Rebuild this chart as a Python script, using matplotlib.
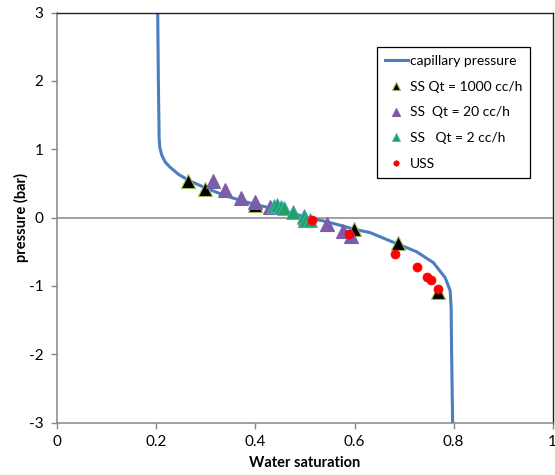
import matplotlib
matplotlib.use("Agg")
import matplotlib.pyplot as plt

plt.rcParams['font.family'] = ['Lato', 'DejaVu Sans']
plt.rcParams['axes.unicode_minus'] = False

# Capillary pressure curve (water saturation, pressure in bar)
curve_sw = [0.2027, 0.204, 0.2056, 0.207, 0.211, 0.218, 0.227, 0.245, 0.266,
            0.297, 0.335, 0.370, 0.399, 0.456, 0.510, 0.537, 0.564, 0.604,
            0.631, 0.671, 0.725, 0.759, 0.783, 0.793, 0.795, 0.796, 0.798]
curve_pc = [3.0, 2.0, 1.15, 1.02, 0.91, 0.81, 0.74, 0.63, 0.54,
            0.44, 0.33, 0.25, 0.19, 0.10, -0.01, -0.05, -0.10, -0.18,
            -0.22, -0.34, -0.50, -0.66, -0.88, -1.07, -1.32, -2.0, -3.0]

# Steady-state measurements, Qt = 1000 cc/h
ss1000_sw = [0.264, 0.298, 0.399, 0.497, 0.599, 0.688, 0.769]
ss1000_pc = [0.54, 0.42, 0.19, 0.01, -0.17, -0.37, -1.09]

# Steady-state measurements, Qt = 20 cc/h
ss20_sw = [0.315, 0.338, 0.370, 0.399, 0.429, 0.500, 0.545, 0.577, 0.593]
ss20_pc = [0.53, 0.40, 0.29, 0.22, 0.16, -0.03, -0.10, -0.20, -0.27]

# Steady-state measurements, Qt = 2 cc/h
ss2_sw = [0.437, 0.444, 0.451, 0.458, 0.476, 0.497, 0.503, 0.510]
ss2_pc = [0.17, 0.18, 0.16, 0.14, 0.08, 0.02, -0.03, -0.04]

# Unsteady-state measurements
uss_sw = [0.514, 0.589, 0.682, 0.726, 0.747, 0.754, 0.769]
uss_pc = [-0.03, -0.24, -0.53, -0.72, -0.87, -0.92, -1.05]

x_ticks = [0, 0.2, 0.4, 0.6, 0.8, 1]
x_tick_labels = ['0', '0.2', '0.4', '0.6', '0.8', '1']
y_ticks = [-3, -2, -1, 0, 1, 2, 3]

fig = plt.figure(figsize=(5.55, 4.75), dpi=100)
ax_left, ax_right, ax_top, ax_bottom = 57.3, 552.7, 12.5, 422.5
ax = fig.add_axes([ax_left / 555, 1 - ax_bottom / 475,
                   (ax_right - ax_left) / 555, (ax_bottom - ax_top) / 475])

ax.axhline(0, color='#868686', lw=1.1, zorder=1)

ax.plot(curve_sw, curve_pc, color='#4A7EBF', lw=2.2, label='capillary pressure', zorder=2)
ax.plot(ss1000_sw, ss1000_pc, ls='none', marker='^', ms=9.5, mfc='black',
        mec='#9BBB59', mew=0.8, label='SS Qt = 1000 cc/h', zorder=3)
ax.plot(ss20_sw, ss20_pc, ls='none', marker='^', ms=9.5, mfc='#7B5EA7',
        mec='#7B5EA7', mew=0.8, label='SS  Qt = 20 cc/h', zorder=3)
ax.plot(ss2_sw, ss2_pc, ls='none', marker='^', ms=9.5, mfc='#1FA064',
        mec='#4BACC6', mew=0.6, label='SS   Qt = 2 cc/h', zorder=4)
ax.plot(uss_sw, uss_pc, ls='none', marker='o', ms=6.5, mfc='#FF0000',
        mec='#FF0000', mew=0.5, label='USS', zorder=5)

ax.set_xlim(0, 1)
ax.set_ylim(-3, 3)
ax.set_xticks(x_ticks)
ax.set_xticklabels(x_tick_labels)
ax.set_yticks(y_ticks)

for side in ('left', 'bottom'):
    ax.spines[side].set_color('#868686')
    ax.spines[side].set_linewidth(1.1)
for side in ('top', 'right'):
    ax.spines[side].set_color('#222222')
    ax.spines[side].set_linewidth(1.0)

ax.tick_params(axis='both', direction='out', length=4, width=1.0,
               color='#868686', labelsize=11, labelcolor='black')
ax.tick_params(axis='y', pad=6)
ax.tick_params(axis='x', pad=5)

ax.set_xlabel('Water saturation', fontsize=10.5, fontweight='bold', labelpad=5)
ax.set_ylabel('pressure (bar)', fontsize=10.5, fontweight='bold', labelpad=0)

leg = ax.legend(loc='upper left', bbox_to_anchor=(377 / 555, 1 - 47 / 475),
                bbox_transform=fig.transFigure, borderaxespad=0,
                fontsize=10, frameon=True, fancybox=False, edgecolor='black',
                framealpha=1, handlelength=1.7, handletextpad=0.15,
                labelspacing=1.0, borderpad=0.55, markerscale=0.6)
leg.get_frame().set_linewidth(0.9)

fig.savefig('out.png', dpi=100)
